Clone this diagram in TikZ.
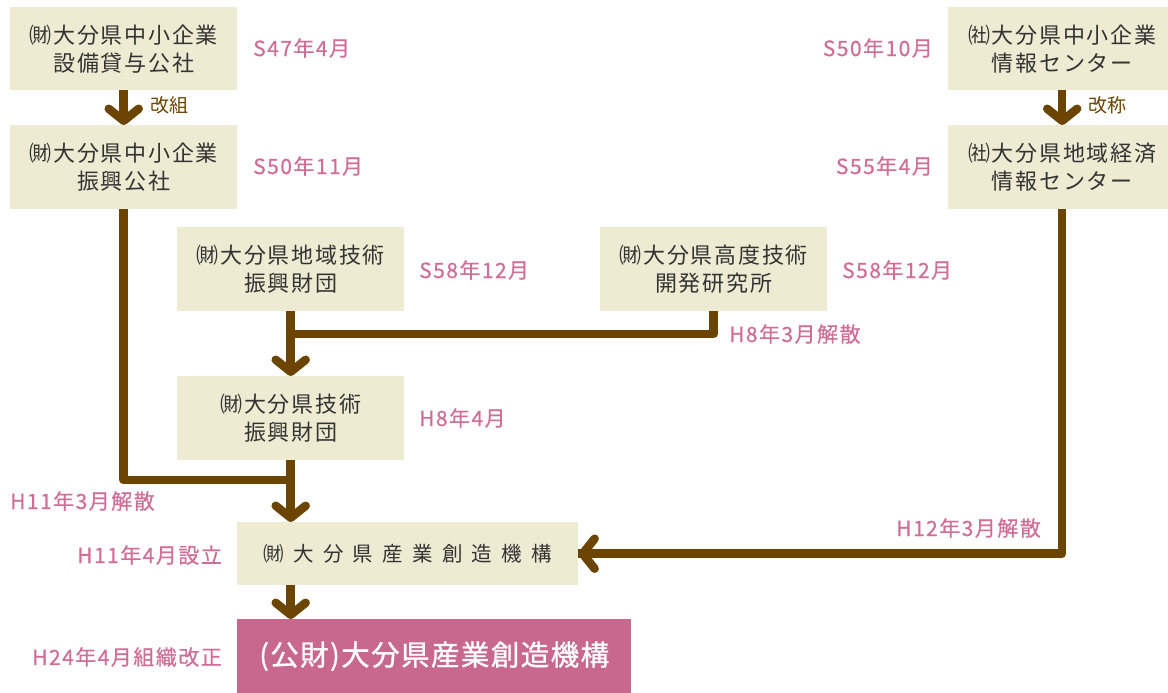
\documentclass[tikz,border=0pt]{standalone}
\usepackage{fontspec}
\setmainfont{Noto Sans CJK JP}
\usetikzlibrary{arrows.meta}
\definecolor{cream}{HTML}{EEEBD3}
\definecolor{pinkbox}{HTML}{C8688F}
\definecolor{pinktxt}{HTML}{CF6E97}
\definecolor{brn}{HTML}{6B4500}
\definecolor{txt}{HTML}{333333}
\begin{document}
\begin{tikzpicture}[x=1pt,y=-1pt,
  box/.style={fill=cream, text=txt, anchor=north west, inner sep=0pt, align=center,
    font=\fontsize{22}{28}\selectfont\addfontfeature{LetterSpace=8}},
  lab/.style={text=pinktxt, inner sep=0pt,
    font=\fontsize{21}{24}\selectfont\addfontfeature{LetterSpace=7,FakeBold=0.6}},
  blab/.style={text=brn, inner sep=0pt, anchor=west,
    font=\fontsize{19}{23}\selectfont\addfontfeature{LetterSpace=4}},
  con/.style={draw=brn, line width=8.5pt, line join=round},
  arr/.style={draw=brn, line width=8.5pt, line join=round,
    -{Straight Barb[length=12pt, width=30pt, line width=8.5pt, round]}}]
\useasboundingbox (0,0) rectangle (1168,693);
% boxes
\node[box, minimum width=227pt, minimum height=83pt] (A) at (10,7) {㈶大分県中小企業\\設備貸与公社};
\node[box, minimum width=227pt, minimum height=84pt] (B) at (10,125) {㈶大分県中小企業\\振興公社};
\node[box, minimum width=228pt, minimum height=83pt] (C) at (948,7) {㈳大分県中小企業\\情報センター};
\node[box, minimum width=228pt, minimum height=84pt] (D) at (948,125) {㈳大分県地域経済\\情報センター};
\node[box, minimum width=227pt, minimum height=84pt] (E) at (177,227) {㈶大分県地域技術\\振興財団};
\node[box, minimum width=227pt, minimum height=84pt] (F) at (600,227) {㈶大分県高度技術\\開発研究所};
\node[box, minimum width=227pt, minimum height=84pt] (G) at (177,376) {㈶大分県技術\\振興財団};
\node[box, minimum width=341pt, minimum height=63pt,
  font=\fontsize{20.5}{24}\selectfont\addfontfeature{LetterSpace=45}] (H) at (237,522) {㈶大分県産業創造機構};
\node[box, fill=pinkbox, text=white, minimum width=394pt, minimum height=74pt,
  font=\fontsize{28.5}{34}\selectfont\addfontfeature{LetterSpace=5,FakeBold=1}] (I) at (237,619) {(公財)大分県産業創造機構};
% junction coordinates
\coordinate (j1) at (290.5,480);
\coordinate (j2) at (290.5,334);
% connectors
\draw[arr] (A.south) -- (B.north);
\draw[arr] (C.south) -- (D.north);
\draw[arr] (E.south) -- (G.north);
\draw[con] (F.south) |- (j2);
\draw[con] (B.south) |- (j1);
\draw[arr] (G.south) -- (G.south |- H.north);
\draw[con] (D.south) |- (H.east);
\draw[arr] ([xshift=-4pt]D.south |- H.east) -- (H.east);
\draw[arr] (G.south |- H.south) -- (G.south |- I.north);
% labels
\node[blab] (l1) at (150,105) {改組};
\node[blab] (l2) at (1088,105) {改称};
\node[lab, anchor=west] (t1) at (253,48) {S47年4月};
\node[lab, anchor=west] (t2) at (253,166) {S50年11月};
\node[lab, anchor=east] (t3) at (933,48) {S50年10月};
\node[lab, anchor=east] (t4) at (933,166) {S55年4月};
\node[lab, anchor=west] (t5) at (419,270) {S58年12月};
\node[lab, anchor=west] (t6) at (842,270) {S58年12月};
\node[lab, anchor=west] (t7) at (729,334) {H8年3月解散};
\node[lab, anchor=west] (t8) at (419,418) {H8年4月};
\node[lab, anchor=west] (t9) at (10,501) {H11年3月解散};
\node[lab, anchor=east] (t10) at (222,555) {H11年4月設立};
\node[lab, anchor=east] (t11) at (222,657) {H24年4月組織改正};
\node[lab, anchor=east] (t12) at (1041,528) {H12年3月解散};
\end{tikzpicture}
\end{document}
